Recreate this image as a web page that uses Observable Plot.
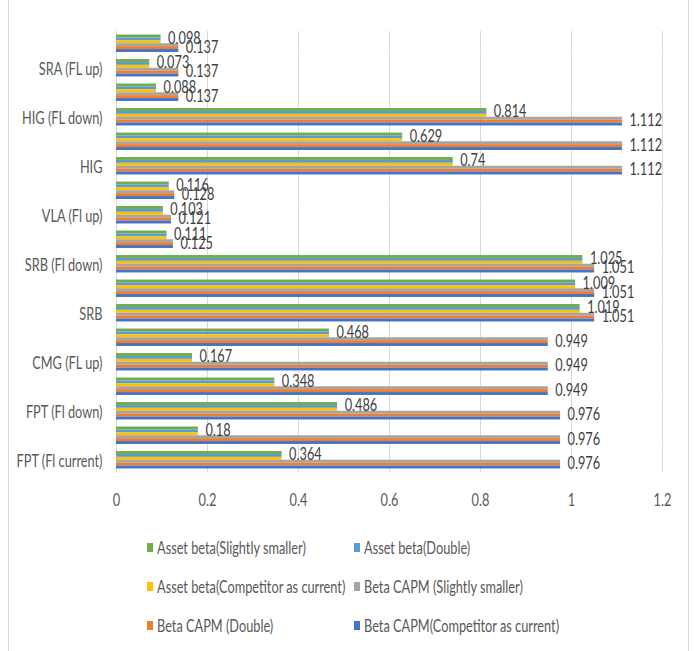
<!DOCTYPE html>
<html>
<head>
<meta charset="utf-8">
<script src="https://cdn.jsdelivr.net/npm/d3@7"></script>
<script src="https://cdn.jsdelivr.net/npm/@observablehq/plot@0.6"></script>
<style>
  html, body { margin: 0; padding: 0; background: #fff; }
  #chart { position: relative; width: 694px; height: 651px; overflow: hidden; font-family: Lato, sans-serif; }
  #chart svg { position: absolute; left: 0; top: 0; }
  #border { position: absolute; left: 8px; top: 0; width: 681px; height: 651px; box-sizing: border-box;
            border-left: 1px solid #d9d9d9; border-right: 1px solid #d9d9d9; pointer-events: none; }
  #legend { position: absolute; left: 147px; top: 532px; display: grid;
            grid-template-columns: 207px auto; grid-auto-rows: 39px; }
  .item { display: flex; align-items: center; height: 30px; white-space: nowrap; font-size: 17px; color: #595959; }
  .sw { width: 6px; height: 9px; margin-right: 4px; flex: none; }
  .lbl { display: inline-block; transform: scaleX(0.75); transform-origin: 0 50%; }
</style>
</head>
<body>
<div id="chart"><div id="legend"></div><div id="border"></div></div>
<script>
// Categories, bottom to top (Excel order); only every other one carries a label.
const categories = [
  "FPT (Fl current)", "FPT (Fl up)", "FPT (Fl down)",
  "CMG", "CMG (FL up)", "CMG (FL down)",
  "SRB", "SRB (Fl up)", "SRB (Fl down)",
  "VLA", "VLA (Fl up)", "VLA (Fl down)",
  "HIG", "HIG (FL up)", "HIG (FL down)",
  "SRA", "SRA (FL up)", "SRA (FL down)"
];
const shownCategories = categories.filter((d, i) => i % 2 === 0);

const series = [
  "Asset beta(Slightly smaller)",
  "Asset beta(Double)",
  "Asset beta(Competitor as current)",
  "Beta CAPM (Slightly smaller)",
  "Beta CAPM (Double)",
  "Beta CAPM(Competitor as current)"
];
const colors = ["#70AD47", "#5B9BD5", "#FFC000", "#A5A5A5", "#ED7D31", "#4472C4"];

// Values per series, in the same order as categories
const assetSlightlySmaller = [0.364, 0.18, 0.486, 0.348, 0.167, 0.468, 1.019, 1.009, 1.025, 0.111, 0.103, 0.116, 0.74, 0.629, 0.814, 0.088, 0.073, 0.098];
const assetDouble          = [0.364, 0.18, 0.486, 0.348, 0.167, 0.468, 1.019, 1.009, 1.025, 0.111, 0.103, 0.116, 0.74, 0.629, 0.814, 0.088, 0.073, 0.098];
const assetCompetitor      = [0.364, 0.18, 0.486, 0.348, 0.167, 0.468, 1.019, 1.009, 1.025, 0.111, 0.103, 0.116, 0.74, 0.629, 0.814, 0.088, 0.073, 0.098];
const capmSlightlySmaller  = [0.976, 0.976, 0.976, 0.949, 0.949, 0.949, 1.051, 1.051, 1.051, 0.125, 0.121, 0.128, 1.112, 1.112, 1.112, 0.137, 0.137, 0.137];
const capmDouble           = [0.976, 0.976, 0.976, 0.949, 0.949, 0.949, 1.051, 1.051, 1.051, 0.125, 0.121, 0.128, 1.112, 1.112, 1.112, 0.137, 0.137, 0.137];
const capmCompetitor       = [0.976, 0.976, 0.976, 0.949, 0.949, 0.949, 1.051, 1.051, 1.051, 0.125, 0.121, 0.128, 1.112, 1.112, 1.112, 0.137, 0.137, 0.137];

const xTicks = [0, 0.2, 0.4, 0.6, 0.8, 1, 1.2];

const seriesValues = [assetSlightlySmaller, assetDouble, assetCompetitor, capmSlightlySmaller, capmDouble, capmCompetitor];
const rows = [];
categories.forEach((c, i) => {
  seriesValues.forEach((vals, j) => rows.push({category: c, series: series[j], value: vals[i]}));
});
// one value label for the asset betas and one for the CAPM betas
const labelRows = rows.filter(d => d.series === series[1] || d.series === series[4]);

const chart = Plot.plot({
  width: 694,
  height: 515,
  marginLeft: 116,
  marginRight: 32,
  marginTop: 31,
  marginBottom: 43,
  style: {fontFamily: "Lato, sans-serif", fontSize: "17px", background: "transparent"},
  x: {domain: [0, 1.2]},
  fy: {domain: [...categories].reverse(), padding: 0, round: false},
  // outer padding on the series scale leaves the gap between category groups
  y: {domain: series, paddingInner: 0, paddingOuter: 1.22, round: false, axis: null},
  color: {domain: series, range: colors},
  marks: [
    Plot.ruleX(xTicks, {stroke: "#d9d9d9", strokeWidth: 1}),
    Plot.barX(rows, {x: "value", y: "series", fy: "category", fill: "series"}),
    Plot.text(labelRows, {
      x: "value", y: "series", fy: "category", text: d => String(d.value),
      textAnchor: "start", dx: 7, dy: -1, fill: "#404040"
    }),
    Plot.axisX({ticks: xTicks, tickSize: 0, tickPadding: 21, tickFormat: d => String(d), color: "#595959", label: null}),
    Plot.axisFy({anchor: "left", ticks: shownCategories, tickSize: 0, tickPadding: 14, color: "#595959", label: null, dy: 1})
  ]
});

const root = document.getElementById("chart");
root.insertBefore(chart, root.firstChild);

// narrow the lettering horizontally, keeping each label's anchor in place
chart.querySelectorAll("text").forEach(t => {
  const b = t.getBBox();
  const anchor = t.getAttribute("text-anchor") || getComputedStyle(t).textAnchor || "start";
  const ax = anchor === "end" ? b.x + b.width : anchor === "middle" ? b.x + b.width / 2 : b.x;
  const tr = t.getAttribute("transform") || "";
  t.setAttribute("transform", `${tr} translate(${ax},0) scale(0.75,1) translate(${-ax},0)`);
});

// legend: two columns, three rows
const legend = document.getElementById("legend");
series.forEach((s, i) => {
  const item = document.createElement("div");
  item.className = "item";
  const sw = document.createElement("span");
  sw.className = "sw";
  sw.style.background = colors[i];
  const lbl = document.createElement("span");
  lbl.className = "lbl";
  lbl.textContent = s;
  item.appendChild(sw);
  item.appendChild(lbl);
  legend.appendChild(item);
});
</script>
</body>
</html>
